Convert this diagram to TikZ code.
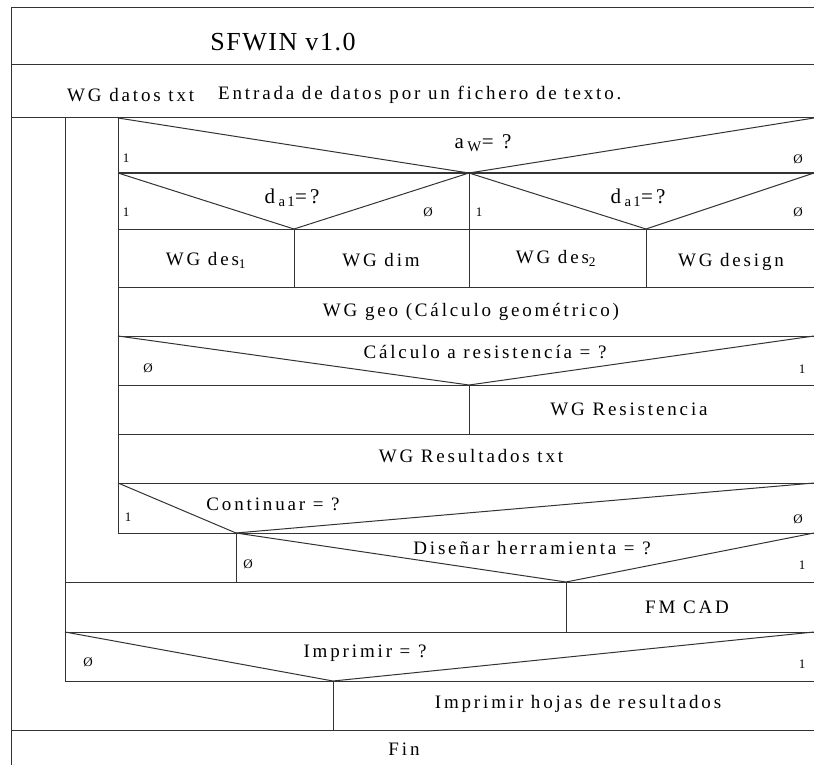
\documentclass[tikz,border=0pt]{standalone}
\usepackage{fontspec}
\setmainfont{Liberation Serif}
\newfontfamily\spaced{Liberation Serif}[LetterSpace=15]
\newfontfamily\titlefont{Liberation Serif}[LetterSpace=6]
\begin{document}
\begin{tikzpicture}[
    x=1pt, y=-1pt,
    nsline/.style={draw=black!80, line width=1pt},
    txt/.style={font=\spaced\fontsize{19}{21}\selectfont, inner sep=0pt},
    cond/.style={font=\spaced\fontsize{21}{23}\selectfont, inner sep=0pt},
    lbl/.style={font=\fontsize{13}{14}\selectfont, inner sep=0pt}
]
\useasboundingbox (0,0) rectangle (814,765);

% Frame and header
\draw[nsline] (814,8) -- (11,8) -- (11,765);
\draw[nsline] (11,65) -- (814,65);
\draw[nsline] (11,118) -- (814,118);
\draw[nsline] (11,730) -- (814,730);
\node[font=\titlefont\fontsize{26}{28}\selectfont, inner sep=0pt] (title) at (283,42) {SFWIN v1.0};
\node[txt, anchor=west] (datos) at (67,95) {WG datos txt};
\node[txt, anchor=west] (entrada) at (218,95) {Entrada de datos por un fichero de texto.};

% Loops
\draw[nsline] (65,118) -- (65,681);
\draw[nsline] (118,118) -- (118,533);

% Decision a_w
\draw[nsline] (118,118) -- (469,173) -- (814,118);
\draw[nsline] (118,173) -- (814,173);
\node[cond] (aw) at (483,143) {a\,\textsubscript{W}= ?};
\node[lbl] (aw1) at (126,158) {1};
\node[lbl] (aw0) at (798,159) {Ø};

% Decisions d_a1
\draw[nsline] (118,173) -- (294,229) -- (469,173) -- (646,229) -- (814,173);
\draw[nsline] (469,173) -- (469,229);
\draw[nsline] (118,229) -- (814,229);
\node[cond] (dal) at (292,198) {d\,\textsubscript{a1}=?};
\node[cond] (dar) at (638,198) {d\,\textsubscript{a1}=?};
\node[lbl] (dal1) at (126,212) {1};
\node[lbl] (dal0) at (428,212) {Ø};
\node[lbl] (dar1) at (479,212) {1};
\node[lbl] (dar0) at (798,212) {Ø};

% Design modules
\draw[nsline] (294,229) -- (294,287);
\draw[nsline] (469,229) -- (469,287);
\draw[nsline] (646,229) -- (646,287);
\draw[nsline] (118,287) -- (814,287);
\node[txt] (des1) at (206,260) {WG des\textsubscript{1}};
\node[txt] (dim) at (381,260) {WG dim};
\node[txt] (des2) at (556,258) {WG des\textsubscript{2}};
\node[txt] (design) at (731,262) {WG design};

% Geometry
\draw[nsline] (118,336) -- (814,336);
\node[txt] (geo) at (471,312) {WG geo (Cálculo geométrico)};

% Decision resistance
\draw[nsline] (118,336) -- (469,385) -- (814,336);
\draw[nsline] (118,385) -- (814,385);
\node[txt] (calc) at (485,352) {Cálculo a resistencía = ?};
\node[lbl] (calc0) at (148,368) {Ø};
\node[lbl] (calc1) at (802,369) {1};
\draw[nsline] (469,385) -- (469,434);
\draw[nsline] (118,434) -- (814,434);
\node[txt] (resist) at (629,409) {WG Resistencia};

% Results
\draw[nsline] (118,483) -- (814,483);
\node[txt] (result) at (471,456) {WG Resultados txt};

% Decision continue
\draw[nsline] (118,483) -- (236,533) -- (814,483);
\draw[nsline] (118,533) -- (814,533);
\node[txt] (cont) at (273,504) {Continuar = ?};
\node[lbl] (cont1) at (128,517) {1};
\node[lbl] (cont0) at (798,519) {Ø};

% Decision tool design
\draw[nsline] (236,533) -- (236,582);
\draw[nsline] (236,533) -- (566,582) -- (814,533);
\draw[nsline] (65,582) -- (814,582);
\node[txt] (disenar) at (532,548) {Diseñar herramienta = ?};
\node[lbl] (disenar0) at (248,564) {Ø};
\node[lbl] (disenar1) at (802,565) {1};
\draw[nsline] (566,582) -- (566,632);
\draw[nsline] (65,632) -- (814,632);
\node[txt] (fmcad) at (687,607) {FM CAD};

% Decision print
\draw[nsline] (65,632) -- (333,681) -- (814,632);
\draw[nsline] (65,681) -- (814,681);
\node[txt] (impr) at (365,653) {Imprimir = ?};
\node[lbl] (impr0) at (88,662) {Ø};
\node[lbl] (impr1) at (802,664) {1};
\draw[nsline] (333,681) -- (333,730);
\node[txt] (hojas) at (578,704) {Imprimir hojas de resultados};

% End
\node[txt] (fin) at (404,749) {Fin};

\end{tikzpicture}
\end{document}
